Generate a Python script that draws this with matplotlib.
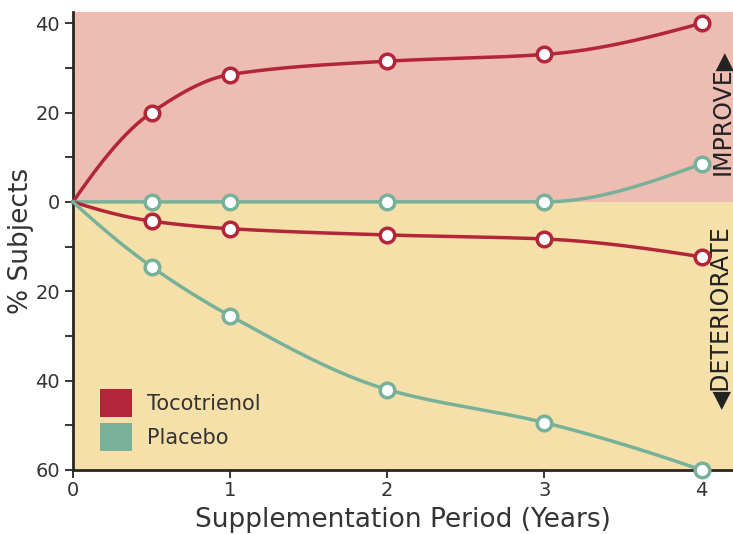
import numpy as np
import matplotlib
matplotlib.use("Agg")
import matplotlib.pyplot as plt
from matplotlib.patches import Patch
from matplotlib.ticker import FixedLocator, FuncFormatter

# ---- data ----
years = [0, 0.5, 1, 2, 3, 4]
toco_improve = [0, 20, 28.5, 31.5, 33, 40]
placebo_improve = [0, 0, 0, 0, 0, 8.5]
toco_deteriorate = [0, -4.3, -6, -7.4, -8.3, -12.3]
placebo_deteriorate = [0, -14.5, -25.5, -42, -49.4, -60]
y_ticks = [40, 20, 0, -20, -40, -60]
y_minor = [30, 10, -10, -30, -50]
x_ticks = [0, 1, 2, 3, 4]
series_names = ["Tocotrienol", "Placebo"]

RED = "#B32539"
GREEN = "#77B19A"
PINK = "#ECBDB0"
YELLOW = "#F6E0A9"
DARK = "#2b2620"


def pchip(x, y, xs):
    x = np.asarray(x, float); y = np.asarray(y, float)
    h = np.diff(x); d = np.diff(y) / h
    n = len(x); m = np.zeros(n)
    for k in range(1, n - 1):
        if d[k - 1] * d[k] > 0:
            w1 = 2 * h[k] + h[k - 1]; w2 = h[k] + 2 * h[k - 1]
            m[k] = (w1 + w2) / (w1 / d[k - 1] + w2 / d[k])

    def end(h0, h1, d0, d1):
        s = ((2 * h0 + h1) * d0 - h0 * d1) / (h0 + h1)
        if np.sign(s) != np.sign(d0):
            s = 0
        elif np.sign(d0) != np.sign(d1) and abs(s) > abs(3 * d0):
            s = 3 * d0
        return s
    m[0] = end(h[0], h[1], d[0], d[1])
    m[-1] = end(h[-1], h[-2], d[-1], d[-2])
    xs = np.asarray(xs, float)
    idx = np.clip(np.searchsorted(x, xs) - 1, 0, n - 2)
    t = (xs - x[idx]) / h[idx]
    h00 = 2 * t**3 - 3 * t**2 + 1; h10 = t**3 - 2 * t**2 + t
    h01 = -2 * t**3 + 3 * t**2; h11 = t**3 - t**2
    return h00 * y[idx] + h10 * h[idx] * m[idx] + h01 * y[idx + 1] + h11 * h[idx] * m[idx + 1]


fig = plt.figure(figsize=(7.33, 5.34), dpi=100)
ax = fig.add_axes([0.0996, 0.1199, 0.9004, 0.8576])
ax.set_xlim(0, 4.2)
ax.set_ylim(-60, 42.5)

ax.axhspan(0, 42.5, color=PINK, zorder=0, lw=0)
ax.axhspan(-60, 0, color=YELLOW, zorder=0, lw=0)

xs = np.linspace(0, 4, 400)
for ys, col in [(toco_improve, RED), (placebo_improve, GREEN),
                (toco_deteriorate, RED), (placebo_deteriorate, GREEN)]:
    ax.plot(xs, pchip(years, ys, xs), color=col, lw=2.5, zorder=3, clip_on=False)
    ax.plot(years[1:], ys[1:], ls="none", marker="o", ms=10.5, mfc="white",
            mec=col, mew=2.5, zorder=4, clip_on=False)

for s in ["top", "right"]:
    ax.spines[s].set_visible(False)
for s in ["left", "bottom"]:
    ax.spines[s].set_color(DARK)
    ax.spines[s].set_linewidth(2)

ax.set_xticks(x_ticks)
ax.set_yticks(y_ticks)
ax.yaxis.set_minor_locator(FixedLocator(y_minor))
ax.yaxis.set_major_formatter(FuncFormatter(lambda v, p: f"{abs(v):.0f}"))
ax.tick_params(axis="both", which="both", direction="out", length=6, width=1.3,
               color=DARK, labelsize=14, labelcolor="#333333")
ax.tick_params(axis="x", pad=2)

ax.set_xlabel("Supplementation Period (Years)", fontsize=19, color="#333333", labelpad=5)
ax.set_ylabel("% Subjects", fontsize=19, color="#333333", labelpad=1)

ax.text(4.125, 20, "IMPROVE\u25B6", rotation=90, ha="center", va="center",
        fontsize=17, color="#222222", clip_on=False, family="DejaVu Sans")
ax.text(4.125, -26, "\u25C0DETERIORATE", rotation=90, ha="center", va="center",
        fontsize=17, color="#222222", clip_on=False, family="DejaVu Sans")

handles = [Patch(facecolor=RED, edgecolor="none"), Patch(facecolor=GREEN, edgecolor="none")]
leg = ax.legend(handles, series_names, loc="lower left", bbox_to_anchor=(0.013, 0.0),
                frameon=False, fontsize=15, handlelength=1.5, handleheight=1.7,
                handletextpad=0.75, labelspacing=0.3, labelcolor="#333333")

fig.savefig("out.png", dpi=100)
